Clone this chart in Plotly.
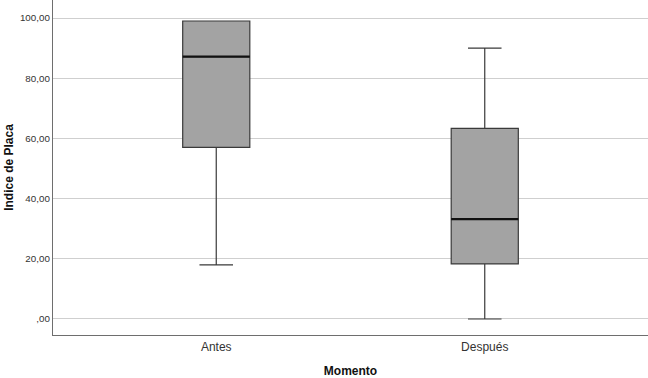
import plotly.graph_objects as go

categories = ["Antes", "Después"]
lower_whisker = [18.0, 0.0]
q1 = [57.0, 18.3]
median = [87.2, 33.2]
q3 = [99.0, 63.3]
upper_whisker = [99.0, 90.0]

y_tick_vals = [0, 20, 40, 60, 80, 100]
y_tick_text = [",00", "20,00", "40,00", "60,00", "80,00", "100,00"]

box_w = 0.25
xpos = list(range(len(categories)))

fig = go.Figure()
fig.add_trace(go.Box(
    x=xpos, q1=q1, median=median, q3=q3,
    lowerfence=lower_whisker, upperfence=upper_whisker,
    width=box_w, whiskerwidth=0.5,
    fillcolor="#a3a3a3",
    line=dict(color="#3a3a3a", width=1.2),
    boxpoints=False, hoverinfo="skip", showlegend=False,
))
for i, m in zip(xpos, median):
    fig.add_trace(go.Scatter(
        x=[i - box_w / 2, i + box_w / 2], y=[m, m], mode="lines",
        line=dict(color="#111111", width=2.2), hoverinfo="skip", showlegend=False,
    ))

fig.update_layout(
    width=648, height=378,
    margin=dict(l=53, r=0, t=0, b=43),
    paper_bgcolor="white", plot_bgcolor="white",
    font=dict(family="Liberation Sans, Arial, sans-serif", color="#333333", size=11),
    xaxis=dict(
        range=[-0.608, 1.608], tickvals=xpos, ticktext=categories, automargin=False,
        showgrid=False, zeroline=False, showline=True, linecolor="#6e6e6e", linewidth=1.3,
        ticks="", ticklen=2, tickfont=dict(size=12, color="#333333"),
        title=dict(text="<b>Momento</b>", font=dict(size=12, color="#111111"), standoff=22),
    ),
    yaxis=dict(
        range=[-5.32, 105.98], tickvals=y_tick_vals, ticktext=y_tick_text, automargin=False,
        showgrid=True, gridcolor="#cfcfcf", gridwidth=1.2, zeroline=False,
        showline=True, linecolor="#6e6e6e", linewidth=1.3, ticks="",
        tickfont=dict(size=9.8, color="#333333"),
        title=dict(text="<b>Indice de Placa</b>", font=dict(size=12, color="#111111"), standoff=3),
    ),
)

post_js = "document.body.style.margin='0';"

fig.write_html("out.html", config={"displayModeBar": False}, post_script=post_js)
